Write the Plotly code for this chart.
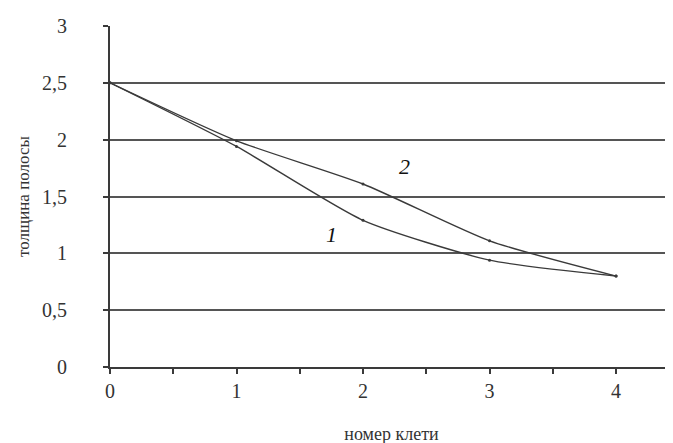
import plotly.graph_objects as go

stands = [0, 1, 2, 3, 4]
thickness_1 = [2.5, 1.94, 1.29, 0.94, 0.80]
thickness_2 = [2.5, 1.99, 1.61, 1.11, 0.80]
y_ticks = [0, 0.5, 1, 1.5, 2, 2.5, 3]
x_ticks = [0, 1, 2, 3, 4]

line_col = "#3a3a3a"
grid_col = "#555555"
font_serif = "Liberation Serif"

fig = go.Figure()
for ys in (thickness_1, thickness_2):
    fig.add_trace(go.Scatter(
        x=stands, y=ys, mode="lines+markers",
        line=dict(color=line_col, width=1.4, shape="spline", smoothing=0.6),
        marker=dict(size=3, color=line_col),
        showlegend=False,
    ))

fig.add_annotation(x=1.75, y=1.17, text="<i>1</i>", showarrow=False,
                   font=dict(family=font_serif, size=22, color="#111"))
fig.add_annotation(x=2.33, y=1.76, text="<i>2</i>", showarrow=False,
                   font=dict(family=font_serif, size=22, color="#111"))

fig.update_layout(
    width=673, height=443,
    margin=dict(l=102, r=8, t=18, b=84),
    plot_bgcolor="white", paper_bgcolor="white",
    separators=", ",
    font=dict(family=font_serif, size=20, color="#333"),
)
fig.update_xaxes(
    range=[0, 4.45], tickvals=x_ticks, ticktext=[str(v) for v in x_ticks],
    showgrid=False, zeroline=False,
    showline=True, linecolor=line_col, linewidth=2,
    ticks="outside", ticklen=5, tickcolor=line_col, tickwidth=1.5,
    minor=dict(dtick=0.5, ticks="outside", ticklen=5, tickcolor=line_col, tickwidth=1.5, tick0=0),
    title=dict(text="номер клети", standoff=26, font=dict(family=font_serif, size=18, color="#333")),
)
fig.update_yaxes(
    range=[0, 3], tickvals=y_ticks, ticktext=[f"{v:g}".replace(".", ",") for v in y_ticks],
    showgrid=True, gridcolor=grid_col, gridwidth=2, zeroline=False,
    showline=True, linecolor=line_col, linewidth=2,
    ticks="outside", ticklen=5, tickcolor=line_col, tickwidth=2,
    ticklabelstandoff=32,
    title=dict(text="толщина полосы", standoff=8, font=dict(family=font_serif, size=17, color="#333")),
)

fig.write_html("out.html")
